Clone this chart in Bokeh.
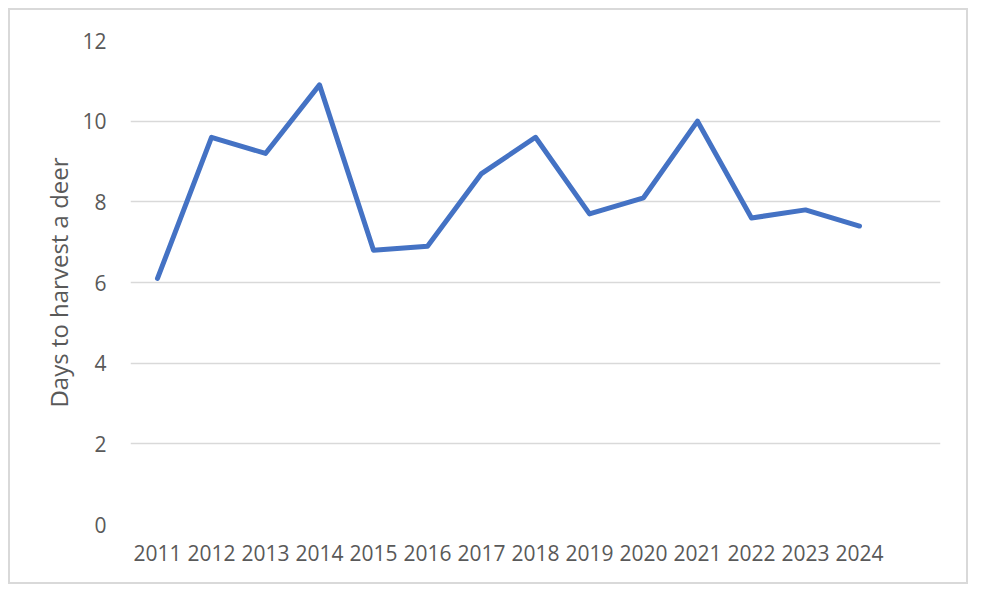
from bokeh.plotting import figure
from bokeh.models import FixedTicker, Range1d
from bokeh.embed import file_html
from bokeh.resources import INLINE

years = [2011, 2012, 2013, 2014, 2015, 2016, 2017, 2018, 2019, 2020, 2021, 2022, 2023, 2024]
days = [6.1, 9.6, 9.2, 10.9, 6.8, 6.9, 8.7, 9.6, 7.7, 8.1, 10.0, 7.6, 7.8, 7.4]
y_ticks = [0, 2, 4, 6, 8, 10, 12]
y_label = "Days to harvest a deer"

FONT = "Open Sans"
TXT = "#595959"
GRID = "#d9d9d9"

p = figure(width=960, height=576, output_backend="svg", toolbar_location=None,
           x_range=Range1d(years[0] - 0.5, years[-1] + 1.5),
           y_range=Range1d(0, 12),
           min_border_left=120, min_border_right=30, min_border_top=30, min_border_bottom=62)
p.styles = {"border": "2px solid #d9d9d9", "margin-left": "8px", "margin-top": "8px"}
p.outline_line_color = None
p.background_fill_color = "white"
p.border_fill_color = "white"

p.line(years, days, line_color="#4472C4", line_width=5, line_join="round", line_cap="round")

p.xaxis.ticker = FixedTicker(ticks=years)
p.xaxis.major_label_overrides = {y: str(y) for y in years}
p.yaxis.ticker = FixedTicker(ticks=y_ticks)
p.yaxis.major_label_overrides = {t: str(t) for t in y_ticks}
for ax in (p.xaxis, p.yaxis):
    ax.axis_line_color = None
    ax.major_tick_line_color = None
    ax.minor_tick_line_color = None
    ax.major_label_text_font = FONT
    ax.major_label_text_font_size = "21px"
    ax.major_label_text_color = TXT
p.xaxis.major_label_standoff = 14
p.yaxis.major_label_standoff = 18
p.yaxis.axis_label = y_label
p.yaxis.axis_label_text_font = FONT
p.yaxis.axis_label_text_font_size = "24px"
p.yaxis.axis_label_text_font_style = "normal"
p.yaxis.axis_label_text_color = TXT
p.yaxis.axis_label_standoff = 4

p.xgrid.grid_line_color = None
p.ygrid.grid_line_color = GRID
p.ygrid.grid_line_width = 1.5

open("out.html", "w").write(file_html(p, INLINE))
